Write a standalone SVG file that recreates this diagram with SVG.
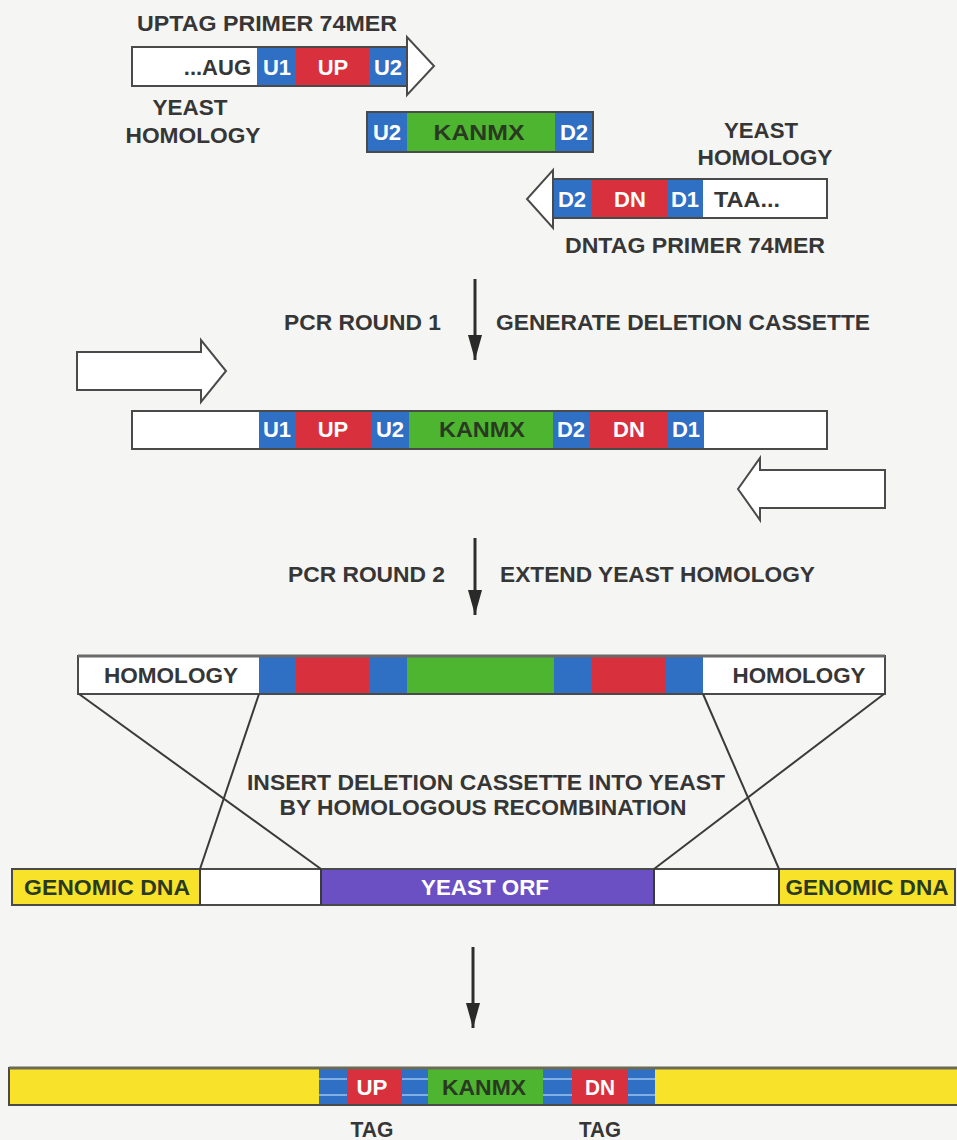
<svg xmlns="http://www.w3.org/2000/svg" width="957" height="1140" viewBox="0 0 957 1140">
<style>
.t{font-family:"Liberation Sans",Arial,sans-serif;font-weight:bold;fill:#363636;font-size:22px}
.c{text-anchor:middle}
.w{fill:#ffffff}
.k{fill:#2a3a22}
.wh{fill:#ffffff}
.bl{fill:#2f6fc4}
.rd{fill:#d8303c}
.gr{fill:#4db52f}
.pu{fill:#6a50c2}
.ye{fill:#f8e32a}
.out{fill:none;stroke:#4a4a4a;stroke-width:2}
.ln{stroke:#3a3a3a;stroke-width:2;fill:none}
.arr{stroke:#2e2e2e;stroke-width:3;fill:none}
.stripe{stroke:#9cc4f0;stroke-width:1.5}
</style>
<defs>
<marker id="ah" markerUnits="userSpaceOnUse" markerWidth="14" markerHeight="25" refX="7" refY="25" orient="0">
<path d="M0,0 L14,0 L7,25 Z" fill="#2a2a2a"/>
</marker>
</defs>
<rect width="957" height="1140" fill="#f5f5f3"/>

<g id="uptag-primer">
<polygon points="132,47 407,47 407,37 434,66 407,95 407,86 132,86" fill="#ffffff" stroke="#4a4a4a" stroke-width="2"/>
<rect x="257" y="47" width="39" height="39" class="bl"/>
<rect x="296" y="47" width="73" height="39" class="rd"/>
<rect x="369" y="47" width="38" height="39" class="bl"/>
<rect x="132" y="47" width="275" height="39" class="out"/>
<text class="t" x="251" y="75" text-anchor="end" font-size="21">...AUG</text>
<text class="t c w" x="277" y="75" font-size="21">U1</text>
<text class="t c w" x="333" y="75" font-size="21">UP</text>
<text class="t c w" x="388" y="75" font-size="21">U2</text>
</g>
<g id="uptag-label">
<text class="t c" x="267" y="31" font-size="23" textLength="260" lengthAdjust="spacingAndGlyphs">UPTAG PRIMER 74MER</text>
<text class="t c" x="190" y="115" font-size="23" textLength="75" lengthAdjust="spacingAndGlyphs">YEAST</text>
<text class="t c" x="193" y="143" font-size="23" textLength="135" lengthAdjust="spacingAndGlyphs">HOMOLOGY</text>
</g>

<g id="kanmx-module">
<rect x="367" y="112" width="40" height="40" class="bl"/>
<rect x="407" y="112" width="148" height="40" class="gr"/>
<rect x="555" y="112" width="38" height="40" class="bl"/>
<rect x="367" y="112" width="226" height="40" class="out"/>
<text class="t c w" x="387" y="140" font-size="21">U2</text>
<text class="t c k" x="479" y="140" font-size="23" textLength="91" lengthAdjust="spacingAndGlyphs">KANMX</text>
<text class="t c w" x="574" y="140" font-size="21">D2</text>
</g>

<g id="dntag-primer">
<polygon points="827,179 553,179 553,170 527,199 553,228 553,218 827,218" fill="#ffffff" stroke="#4a4a4a" stroke-width="2"/>
<rect x="553" y="179" width="39" height="39" class="bl"/>
<rect x="592" y="179" width="75" height="39" class="rd"/>
<rect x="667" y="179" width="36" height="39" class="bl"/>
<rect x="553" y="179" width="274" height="39" class="out"/>
<text class="t c w" x="572" y="207" font-size="21">D2</text>
<text class="t c w" x="630" y="207" font-size="21">DN</text>
<text class="t c w" x="685" y="207" font-size="21">D1</text>
<text class="t" x="714" y="207" font-size="21" textLength="66" lengthAdjust="spacingAndGlyphs">TAA...</text>
</g>
<g id="dntag-label">
<text class="t c" x="761" y="138" font-size="23" textLength="74" lengthAdjust="spacingAndGlyphs">YEAST</text>
<text class="t c" x="765" y="165" font-size="23" textLength="135" lengthAdjust="spacingAndGlyphs">HOMOLOGY</text>
<text class="t c" x="695" y="253" font-size="23" textLength="260" lengthAdjust="spacingAndGlyphs">DNTAG PRIMER 74MER</text>
</g>

<g id="pcr1-label">
<text class="t" x="284" y="330" font-size="23" textLength="157" lengthAdjust="spacingAndGlyphs">PCR ROUND 1</text>
<text class="t" x="496" y="330" font-size="23" textLength="374" lengthAdjust="spacingAndGlyphs">GENERATE DELETION CASSETTE</text>
</g>

<g id="forward-primer">
<polygon points="77,352 201,352 201,340 226,371 201,402 201,390 77,390" fill="#ffffff" stroke="#4a4a4a" stroke-width="2"/>
</g>
<g id="reverse-primer">
<polygon points="885,470 760,470 760,458 738,489 760,520 760,508 885,508" fill="#ffffff" stroke="#4a4a4a" stroke-width="2"/>
</g>

<g id="deletion-cassette">
<rect x="132" y="411" width="695" height="38" class="wh"/>
<rect x="259" y="411" width="37" height="38" class="bl"/>
<rect x="296" y="411" width="75" height="38" class="rd"/>
<rect x="371" y="411" width="38" height="38" class="bl"/>
<rect x="409" y="411" width="144" height="38" class="gr"/>
<rect x="553" y="411" width="37" height="38" class="bl"/>
<rect x="590" y="411" width="78" height="38" class="rd"/>
<rect x="668" y="411" width="36" height="38" class="bl"/>
<rect x="132" y="411" width="695" height="38" class="out"/>
<text class="t c w" x="277" y="437" font-size="21">U1</text>
<text class="t c w" x="333" y="437" font-size="21">UP</text>
<text class="t c w" x="390" y="437" font-size="21">U2</text>
<text class="t c k" x="482" y="437" font-size="21" textLength="86" lengthAdjust="spacingAndGlyphs">KANMX</text>
<text class="t c w" x="571" y="437" font-size="21">D2</text>
<text class="t c w" x="629" y="437" font-size="21">DN</text>
<text class="t c w" x="686" y="437" font-size="21">D1</text>
</g>

<g id="pcr2-label">
<text class="t" x="288" y="582" font-size="23" textLength="157" lengthAdjust="spacingAndGlyphs">PCR ROUND 2</text>
<text class="t" x="500" y="582" font-size="23" textLength="315" lengthAdjust="spacingAndGlyphs">EXTEND YEAST HOMOLOGY</text>
</g>

<g id="extended-cassette">
<rect x="78" y="656" width="807" height="38" class="wh"/>
<rect x="259" y="656" width="37" height="38" class="bl"/>
<rect x="296" y="656" width="73" height="38" class="rd"/>
<rect x="369" y="656" width="38" height="38" class="bl"/>
<rect x="407" y="656" width="147" height="38" class="gr"/>
<rect x="554" y="656" width="38" height="38" class="bl"/>
<rect x="592" y="656" width="74" height="38" class="rd"/>
<rect x="666" y="656" width="37" height="38" class="bl"/>
<rect x="78" y="656" width="807" height="38" class="out"/>
<line x1="78" y1="656" x2="885" y2="656" stroke="#6a6a6a" stroke-width="3"/>
<text class="t c" x="171" y="683" font-size="21" textLength="134" lengthAdjust="spacingAndGlyphs">HOMOLOGY</text>
<text class="t c" x="799" y="683" font-size="21" textLength="133" lengthAdjust="spacingAndGlyphs">HOMOLOGY</text>
</g>

<g id="insert-label">
<text class="t c" x="486" y="790" font-size="23" textLength="478" lengthAdjust="spacingAndGlyphs">INSERT DELETION CASSETTE INTO YEAST</text>
<text class="t c" x="483" y="815" font-size="23" textLength="407" lengthAdjust="spacingAndGlyphs">BY HOMOLOGOUS RECOMBINATION</text>
</g>

<g id="genomic-locus">
<rect x="12" y="869" width="943" height="36" class="wh"/>
<rect x="12" y="869" width="188" height="36" class="ye"/>
<rect x="321" y="869" width="333" height="36" class="pu"/>
<rect x="779" y="869" width="176" height="36" class="ye"/>
<rect x="12" y="869" width="943" height="36" class="out"/>
<line x1="200" y1="869" x2="200" y2="905" class="ln"/>
<line x1="321" y1="869" x2="321" y2="905" class="ln"/>
<line x1="654" y1="869" x2="654" y2="905" class="ln"/>
<line x1="779" y1="869" x2="779" y2="905" class="ln"/>
<text class="t c k" x="107" y="895" font-size="21" textLength="166" lengthAdjust="spacingAndGlyphs">GENOMIC DNA</text>
<text class="t c w" x="485" y="895" font-size="21" textLength="128" lengthAdjust="spacingAndGlyphs">YEAST ORF</text>
<text class="t c k" x="867" y="895" font-size="21" textLength="163" lengthAdjust="spacingAndGlyphs">GENOMIC DNA</text>
</g>

<g id="deleted-locus">
<rect x="9" y="1068" width="950" height="37" class="ye"/>
<rect x="319" y="1068" width="28" height="37" class="bl"/>
<rect x="347" y="1068" width="55" height="37" class="rd"/>
<rect x="402" y="1068" width="26" height="37" class="bl"/>
<rect x="428" y="1068" width="115" height="37" class="gr"/>
<rect x="543" y="1068" width="29" height="37" class="bl"/>
<rect x="572" y="1068" width="56" height="37" class="rd"/>
<rect x="628" y="1068" width="27" height="37" class="bl"/>
<line x1="319" y1="1079" x2="347" y2="1079" class="stripe"/>
<line x1="319" y1="1095" x2="347" y2="1095" class="stripe"/>
<line x1="402" y1="1079" x2="428" y2="1079" class="stripe"/>
<line x1="402" y1="1095" x2="428" y2="1095" class="stripe"/>
<line x1="543" y1="1079" x2="572" y2="1079" class="stripe"/>
<line x1="543" y1="1095" x2="572" y2="1095" class="stripe"/>
<line x1="628" y1="1079" x2="655" y2="1079" class="stripe"/>
<line x1="628" y1="1095" x2="655" y2="1095" class="stripe"/>
<rect x="9" y="1068" width="950" height="37" class="out"/>
<line x1="9" y1="1068" x2="957" y2="1068" stroke="#6a6a55" stroke-width="3"/>
<text class="t c w" x="372" y="1095" font-size="21" textLength="31" lengthAdjust="spacingAndGlyphs">UP</text>
<text class="t c k" x="484" y="1095" font-size="21" textLength="84" lengthAdjust="spacingAndGlyphs">KANMX</text>
<text class="t c w" x="600" y="1095" font-size="21" textLength="30" lengthAdjust="spacingAndGlyphs">DN</text>
</g>
<g id="tag-labels">
<text class="t c" x="372" y="1137" font-size="21" textLength="43" lengthAdjust="spacingAndGlyphs">TAG</text>
<text class="t c" x="600" y="1137" font-size="21" textLength="42" lengthAdjust="spacingAndGlyphs">TAG</text>
</g>

<g id="connectors">
<line x1="475" y1="279" x2="475" y2="360" class="arr" marker-end="url(#ah)"/>
<line x1="475" y1="538" x2="475" y2="615" class="arr" marker-end="url(#ah)"/>
<line x1="473" y1="947" x2="473" y2="1028" class="arr" marker-end="url(#ah)"/>
<line x1="79" y1="694" x2="321" y2="869" class="ln"/>
<line x1="259" y1="694" x2="200" y2="869" class="ln"/>
<line x1="703" y1="694" x2="779" y2="869" class="ln"/>
<line x1="884" y1="694" x2="654" y2="869" class="ln"/>
</g>
</svg>
